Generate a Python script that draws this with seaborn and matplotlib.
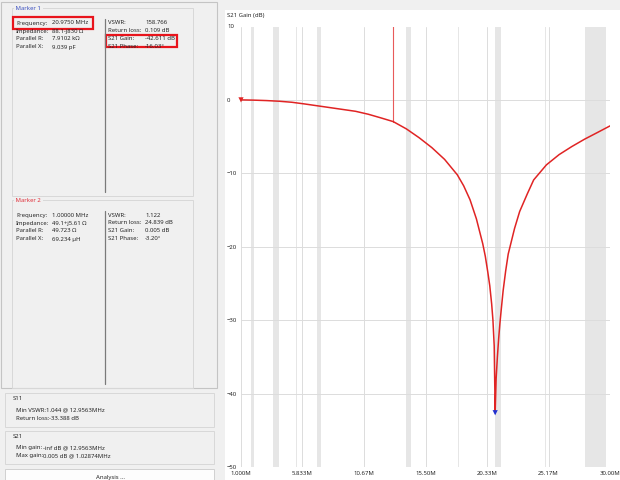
import matplotlib
matplotlib.use("Agg")
import matplotlib.pyplot as plt
from matplotlib.patches import Rectangle
import seaborn as sns
import pandas as pd

# S21 sweep (MHz, dB)
freq_mhz = [1.0, 2.0, 3.0, 4.0, 5.0, 6.0, 7.0, 8.0, 9.0, 10.0, 11.0, 12.0,
            12.96, 14.0, 15.0, 16.0, 17.0, 18.0, 18.5, 19.0, 19.5, 20.0,
            20.2, 20.4, 20.55, 20.7, 20.8, 20.9, 20.975, 21.05, 21.15, 21.25,
            21.35, 21.45, 21.6, 21.8, 22.0, 22.15, 22.5, 22.9, 23.5, 24.0,
            25.0, 26.0, 27.0, 28.0, 29.0, 30.0]
gain_db = [0.005, -0.03, -0.09, -0.18, -0.32, -0.55, -0.8, -1.05, -1.3, -1.55,
           -1.95, -2.45, -2.95, -3.95, -5.15, -6.5, -8.1, -10.2, -11.7, -13.6,
           -16.2, -19.6, -21.3, -23.5, -25.3, -27.8, -30.0, -33.5, -42.611,
           -38.0, -35.0, -32.5, -30.4, -28.6, -26.0, -23.3, -21.0, -19.95,
           -17.5, -15.2, -12.8, -10.9, -8.85, -7.45, -6.35, -5.35, -4.45, -3.54]

# shaded amateur bands (MHz)
band_lo = [1.8, 3.5, 5.3, 7.0, 14.0, 18.068, 21.0, 24.89, 28.0]
band_hi = [2.0, 4.0, 5.4, 7.3, 14.35, 18.168, 21.45, 24.99, 29.7]

x_ticks = [1.0, 5.833, 10.67, 15.50, 20.33, 25.17, 30.0]
x_tick_labels = ["1.000M", "5.833M", "10.67M", "15.50M", "20.33M", "25.17M", "30.00M"]
y_ticks = [10, 0, -10, -20, -30, -40, -50]

marker1_freq, marker1_gain = 20.975, -42.611
marker2_freq, marker2_gain = 1.0, 0.005
s11_min_freq = 12.9563

marker1_left = [("Frequency:", "20.9750 MHz"), ("Impedance:", "88.1-j830 Ω"),
                ("Parallel R:", "7.9102 kΩ"), ("Parallel X:", "9.039 pF")]
marker1_right = [("VSWR:", "158.766"), ("Return loss:", "0.109 dB"),
                 ("S21 Gain:", "-42.611 dB"), ("S21 Phase:", "-16.03°")]
marker2_left = [("Frequency:", "1.00000 MHz"), ("Impedance:", "49.1+j5.61 Ω"),
                ("Parallel R:", "49.723 Ω"), ("Parallel X:", "69.234 µH")]
marker2_right = [("VSWR:", "1.122"), ("Return loss:", "24.839 dB"),
                 ("S21 Gain:", "0.005 dB"), ("S21 Phase:", "-3.20°")]

W, H = 620, 480
FS = 4.3
FONT = ["Noto Sans", "DejaVu Sans"]
TXT = "#262626"

sns.set_style("white")
plt.rcParams["font.family"] = FONT

fig = plt.figure(figsize=(W / 100, H / 100), dpi=100, facecolor="#f0f0f0")


def fx(x):
    return x / W


def fy(y):
    return 1 - y / H


def text(x, y, s, **kw):
    kw.setdefault("color", TXT)
    kw.setdefault("fontsize", FS)
    fig.text(fx(x), fy(y), s, ha=kw.pop("ha", "left"), va=kw.pop("va", "center"), **kw)


def rect(x0, y0, x1, y1, **kw):
    fig.patches.append(Rectangle((fx(x0), fy(y1)), fx(x1 - x0), (y1 - y0) / H,
                                 transform=fig.transFigure, **kw))


def vline(x, y0, y1, color, lw=0.8):
    fig.add_artist(plt.Line2D([fx(x), fx(x)], [fy(y0), fy(y1)], color=color, lw=lw))


# ---- left panel -------------------------------------------------------
rect(1, 2, 217, 388, facecolor="none", edgecolor="#c4c4c4", lw=0.8)


def marker_box(top, bottom, title, title_color, left_rows, right_rows):
    rect(12, top, 193, bottom, facecolor="none", edgecolor="#d8d8d8", lw=0.7)
    text(14, top, " " + title + " ", color=title_color,
         bbox=dict(facecolor="#f0f0f0", edgecolor="none", pad=0.2))
    vline(105, top + 11, bottom - 4, "#7a7a7a", lw=0.9)
    for i, (lab, val) in enumerate(left_rows):
        y = top + 15 + 8 * i
        text(16, y, lab)
        text(52, y, val)
    for i, (lab, val) in enumerate(right_rows):
        y = top + 15 + 8 * i
        text(108, y, lab)
        text(145, y, val)


marker_box(8, 196, "Marker 1", "#3a4fc0", marker1_left, marker1_right)
marker_box(200, 388, "Marker 2", "#e0303a", marker2_left, marker2_right)

# highlighted readouts
rect(13, 17, 93, 29, facecolor="none", edgecolor="#e8141c", lw=1.6)
rect(106, 35, 177, 47, facecolor="none", edgecolor="#e8141c", lw=1.6)

# S11 / S21 summary boxes
rect(5, 393, 214, 427, facecolor="none", edgecolor="#d8d8d8", lw=0.7)
text(13, 399, "S11")
text(16, 410, "Min VSWR:")
text(46, 410, "1.044 @ 12.9563MHz")
text(16, 418, "Return loss:")
text(49, 418, "-33.388 dB")

rect(5, 431, 214, 464, facecolor="none", edgecolor="#d8d8d8", lw=0.7)
text(13, 437, "S21")
text(16, 448, "Min gain:")
text(43, 448, "-inf dB @ 12.9563MHz")
text(16, 456, "Max gain:")
text(43, 456, "0.005 dB @ 1.02874MHz")

rect(5, 469, 214, 484, facecolor="#fdfdfd", edgecolor="#d0d0d0", lw=0.7)
text(110, 477, "Analysis ...", ha="center")

# ---- chart panel ------------------------------------------------------
rect(225, 10, 620, 480, facecolor="white", edgecolor="none", zorder=-1)
text(227, 16, "S21 Gain (dB)")

ax = fig.add_axes([fx(241), fy(467), fx(610 - 241), (467 - 26.5) / H])
ax.set_facecolor("white")
for sp in ax.spines.values():
    sp.set_visible(False)

for lo, hi in zip(band_lo, band_hi):
    ax.axvspan(lo, hi, color="#e6e6e6", lw=0, zorder=0)

ax.set_xlim(1, 30)
ax.set_ylim(-50, 10)
ax.set_xticks(x_ticks)
ax.set_xticklabels(x_tick_labels)
ax.set_yticks(y_ticks)
ax.tick_params(length=0, labelsize=FS, labelcolor=TXT, pad=3)
ax.tick_params(axis="y", pad=10)
for lab in ax.get_yticklabels():
    lab.set_horizontalalignment("left")
ax.grid(True, color="#dcdcdc", lw=0.7, zorder=0.5)
ax.set_axisbelow(True)

# S11 minimum marker line
df = pd.DataFrame({"freq": freq_mhz, "gain": gain_db})
y_at_min = df.loc[(df["freq"] - s11_min_freq).abs().idxmin(), "gain"]
ax.plot([s11_min_freq, s11_min_freq], [10, y_at_min], color="#e85a5a", lw=0.8, zorder=2)

sns.lineplot(data=df, x="freq", y="gain", ax=ax, color="#e02424", lw=1.1,
             sort=False, estimator=None, zorder=3)
ax.set_xlabel("")
ax.set_ylabel("")

mk = pd.DataFrame({"freq": [marker1_freq, marker2_freq],
                   "gain": [marker1_gain, marker2_gain],
                   "name": ["Marker 1", "Marker 2"]})
sns.scatterplot(data=mk, x="freq", y="gain", hue="name",
                palette={"Marker 1": "#2030d0", "Marker 2": "#e02424"},
                marker="v", s=14, linewidth=0, ax=ax, legend=False, zorder=4, clip_on=False)
ax.set_xlabel("")
ax.set_ylabel("")

fig.savefig("out.png", dpi=100, facecolor=fig.get_facecolor())
